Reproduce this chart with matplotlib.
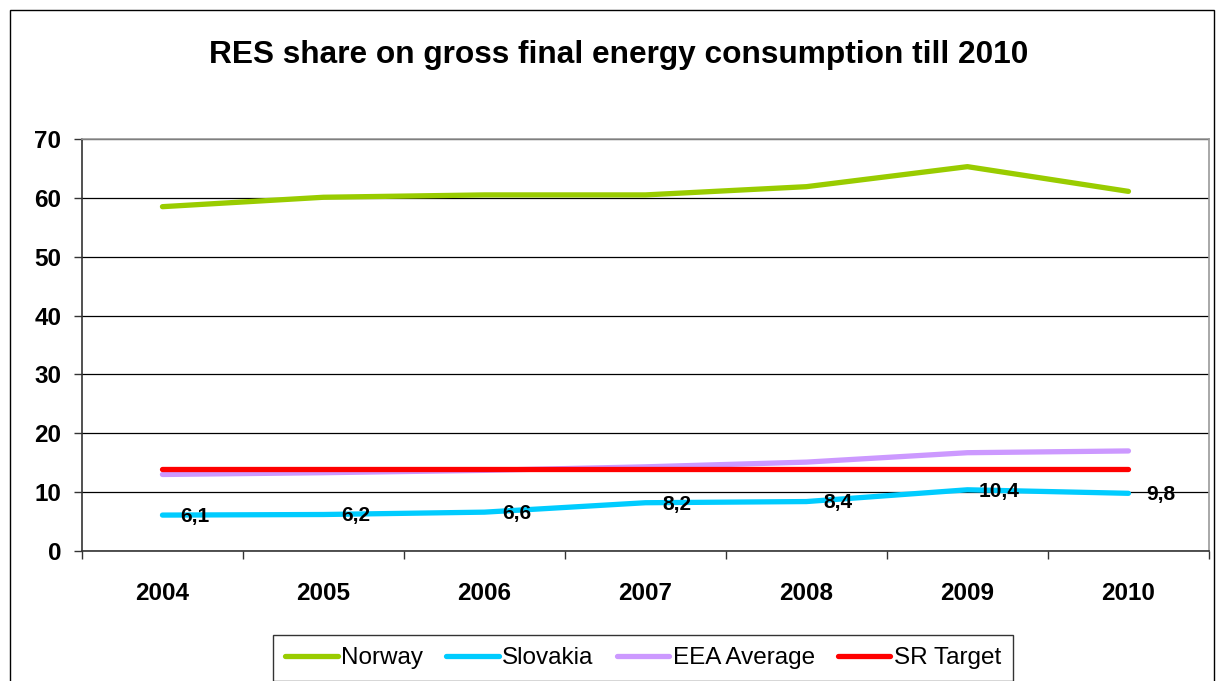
#!/usr/bin/env python3
import matplotlib
matplotlib.use('Agg')
import matplotlib.pyplot as plt
from matplotlib.patches import Rectangle

plt.rcParams['font.family'] = ['Liberation Sans', 'DejaVu Sans']

years = ['2004', '2005', '2006', '2007', '2008', '2009', '2010']
norway = [58.5, 60.1, 60.5, 60.5, 61.9, 65.3, 61.1]
slovakia = [6.1, 6.2, 6.6, 8.2, 8.4, 10.4, 9.8]
eea_avg = [13.0, 13.3, 13.7, 14.3, 15.1, 16.7, 17.0]
sr_target = [14.0, 14.0, 14.0, 14.0, 14.0, 14.0, 14.0]
slovakia_labels = ['6,1', '6,2', '6,6', '8,2', '8,4', '10,4', '9,8']

series = [
    ('Norway', norway, '#99cc00'),
    ('Slovakia', slovakia, '#00ccff'),
    ('EEA Average', eea_avg, '#cc99ff'),
    ('SR Target', sr_target, '#ff0000'),
]

fig = plt.figure(figsize=(12.16, 6.81), dpi=100)
fig.patches.append(Rectangle((0.008, -0.01), 0.99, 0.996, transform=fig.transFigure,
                             fill=False, edgecolor='black', linewidth=1.0))

ax = fig.add_axes([0.0674, 0.1909, 0.9268, 0.605])
x = list(range(len(years)))
for name, vals, col in series:
    ax.plot(x, vals, color=col, linewidth=3.8, solid_capstyle='round',
            solid_joinstyle='round', label=name)

for xi, v, lab in zip(x, slovakia, slovakia_labels):
    ax.annotate(lab, (xi, v), xytext=(23, -1), textcoords='offset points',
                ha='center', va='center', fontsize=15, fontweight='bold')

ax.set_xlim(-0.5, 6.5)
ax.set_ylim(0, 70)
ax.set_yticks(range(0, 71, 10))
ax.yaxis.grid(True, color='black', linewidth=0.9)
ax.set_axisbelow(True)
ax.set_xticks(x)
ax.set_xticklabels(years)
ax.set_xticks([i - 0.5 for i in range(len(years) + 1)], minor=True)
ax.tick_params(axis='x', which='major', length=0, pad=22, labelsize=17.5)
ax.tick_params(axis='x', which='minor', length=6, width=1.0, color='#333333')
ax.tick_params(axis='y', length=6, width=1.0, color='#333333', pad=9, labelsize=17.5)
for lab in ax.get_xticklabels() + ax.get_yticklabels():
    lab.set_fontweight('bold')

ax.spines['left'].set_color('#333333')
ax.spines['bottom'].set_color('#333333')
ax.spines['top'].set_color('#999999')
ax.spines['right'].set_color('#999999')
for s in ax.spines.values():
    s.set_linewidth(1.2)

fig.text(0.509, 0.919, 'RES share on gross final energy consumption till 2010',
         ha='center', va='center', fontsize=22.8, fontweight='bold')

leg = fig.legend(loc='upper center', bbox_to_anchor=(0.529, 0.0675), ncol=4, fontsize=17.5,
                 frameon=True, fancybox=False, handlelength=2.15, handletextpad=0.15,
                 columnspacing=0.95, borderpad=0.5, borderaxespad=0)
leg.get_frame().set_edgecolor('black')
leg.get_frame().set_linewidth(1.0)

fig.savefig('out.png', dpi=100)
